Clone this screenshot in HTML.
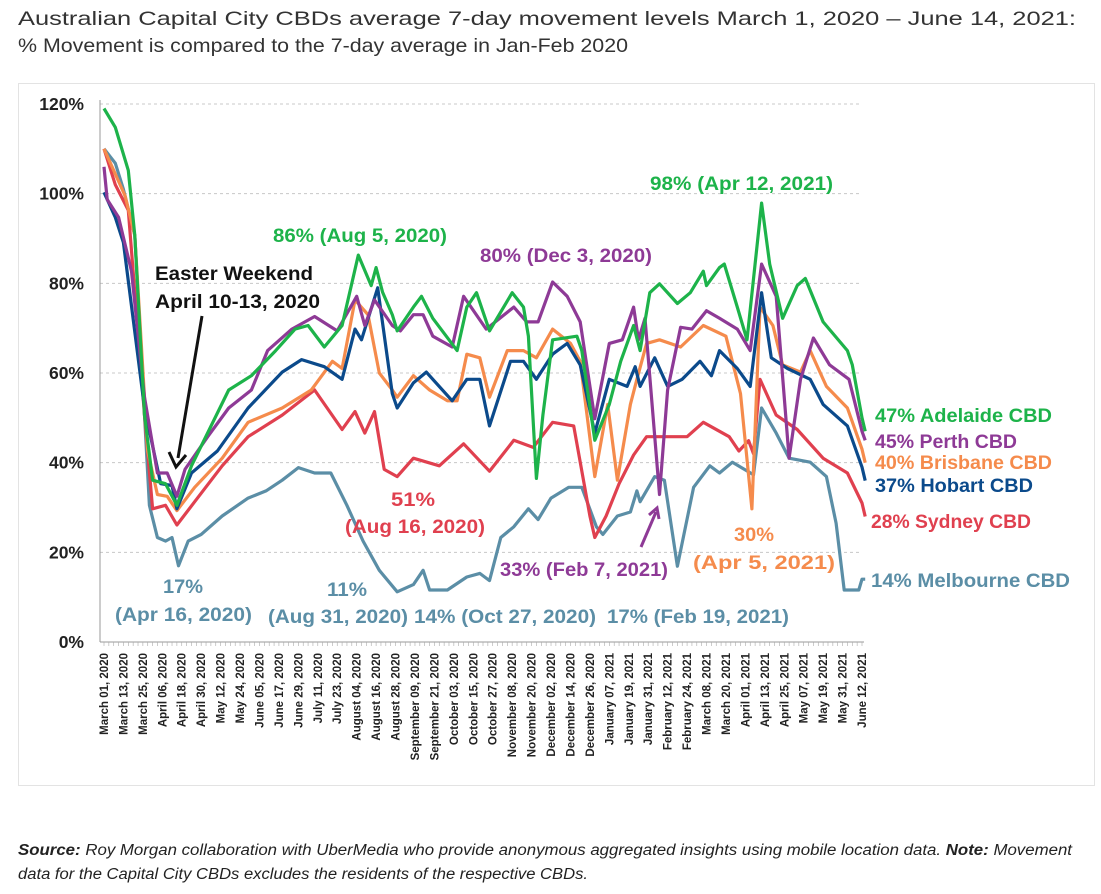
<!DOCTYPE html>
<html><head><meta charset="utf-8"><style>
body{margin:0;background:#fff;font-family:"Liberation Sans",sans-serif;}
svg text{font-family:"Liberation Sans",sans-serif;}
</style></head><body>
<svg id="c" width="1101" height="889" viewBox="0 0 1101 889">
<text x="18" y="25" font-size="19.5" fill="#333" textLength="1058" lengthAdjust="spacingAndGlyphs">Australian Capital City CBDs average 7-day movement levels March 1, 2020 – June 14, 2021:</text>
<text x="18" y="52" font-size="19.5" fill="#333" textLength="610" lengthAdjust="spacingAndGlyphs">% Movement is compared to the 7-day average in Jan-Feb 2020</text>
<rect x="18.5" y="83.5" width="1076" height="702" fill="none" stroke="#e3e3e3"/>
<g id="grid"></g><g id="lines"></g><g id="ann"></g>
<text x="18" y="855" font-size="15.5" font-style="italic" fill="#222" textLength="1054" lengthAdjust="spacingAndGlyphs"><tspan font-weight="bold">Source:</tspan> Roy Morgan collaboration with UberMedia who provide anonymous aggregated insights using mobile location data. <tspan font-weight="bold">Note:</tspan> Movement</text>
<text x="18" y="879" font-size="15.5" font-style="italic" fill="#222" textLength="570" lengthAdjust="spacingAndGlyphs">data for the Capital City CBDs excludes the residents of the respective CBDs.</text>
</svg>
<script>
const yTicks=[0,20,40,60,80,100,120];
const xTickLabels=["March 01, 2020","March 13, 2020","March 25, 2020","April 06, 2020","April 18, 2020","April 30, 2020","May 12, 2020","May 24, 2020","June 05, 2020","June 17, 2020","June 29, 2020","July 11, 2020","July 23, 2020","August 04, 2020","August 16, 2020","August 28, 2020","September 09, 2020","September 21, 2020","October 03, 2020","October 15, 2020","October 27, 2020","November 08, 2020","November 20, 2020","December 02, 2020","December 14, 2020","December 26, 2020","January 07, 2021","January 19, 2021","January 31, 2021","February 12, 2021","February 24, 2021","March 08, 2021","March 20, 2021","April 01, 2021","April 13, 2021","April 25, 2021","May 07, 2021","May 19, 2021","May 31, 2021","June 12, 2021"];
const adelaideDays=[0,7,15,19,25,30,38,45,54,77,91,106,118,126,136,147,157,165,168,172,178,181,191,196,203,218,224,230,238,252,259,262,267,271,277,292,295,303,312,319,327,331,337,343,354,362,370,372,380,383,391,397,406,411,419,428,433,444,459,462,468,470];
const adelaideVals=[119,114.8,105.2,90.7,50.6,36.1,35.3,30.5,39.3,56.2,59.4,65,69.8,70.6,65.8,70.6,86.3,79.5,83.5,78,73,69.4,74.7,77.1,72.2,65,74.7,77.9,69.4,77.9,74.7,68.2,36.5,50.6,67.4,68.2,65,45,53,62.6,70.6,65,77.9,79.9,75.5,77.9,82.7,79.5,83.5,84.3,74.7,67.4,97.9,84.3,72.2,79.5,81.1,71.4,65,61.8,50,47];
const perthDays=[0,2,9,17,25,33,39,45,50,64,77,91,101,116,130,144,156,161,167,178,183,191,197,203,215,222,236,253,261,268,277,286,294,303,312,320,327,330,334,343,348,356,363,372,380,391,399,406,415,423,430,438,448,460,468,470];
const perthVals=[106,98.7,94.7,82.7,54.6,37.7,37.7,32.5,38.5,45.8,52.2,56.2,65,69.8,72.6,69.4,77.1,70.6,76.3,70.6,69.4,73,73,68.2,65.8,77.1,69.8,74.7,71.4,71.4,80.3,77.1,71.4,49.8,66.6,67.4,74.7,67.4,72.2,32.9,56.2,70.2,69.8,73.9,72.2,69.8,65,84.3,77.1,41,58.6,67.8,61.8,58.6,47,45];
const brisbaneDays=[0,13,19,27,33,39,45,56,73,89,110,128,141,147,155,163,170,178,181,191,201,212,218,224,232,238,249,259,267,277,288,294,303,311,317,325,329,335,343,356,370,384,393,400,405,413,419,430,436,446,459,468,470];
const brisbaneVals=[110,99.5,90.7,42.6,32.9,32.5,29.3,34.5,41,49,52.2,56.2,62.6,61,76.3,73,60,56.2,54.6,59.4,56.2,53.8,53.8,64.2,63.4,54.6,65,65,63.4,69.8,66.6,62.6,36.9,53,36.1,53,58.6,66.6,67.4,65.8,70.6,68.2,55.4,29.7,74.7,70.6,61.8,60.2,65,57,52.2,43,40];
const hobartDays=[0,7,12,25,35,42,45,54,70,89,110,122,136,147,155,159,169,178,181,191,199,215,224,232,238,251,259,267,277,286,294,303,312,323,328,331,340,348,357,368,375,380,391,399,406,412,422,436,444,459,468,470];
const hobartVals=[100.3,94.7,89.1,52.2,35.3,34.9,29.7,37.7,42.6,52.2,60.2,63,61.4,58.6,69.8,67.4,79,55.4,52.2,57.8,60.2,53.8,58.6,58.6,48.2,62.6,62.6,58.6,64.2,66.6,61.8,46.6,58.6,57,61.4,57,63.4,57,58.6,62.6,59.4,65,61,57,77.9,63.4,61,58.6,53,48.2,39,36];
const sydneyDays=[0,7,15,25,30,38,45,56,73,89,110,130,147,155,161,167,173,181,191,207,222,238,253,265,277,290,300,303,310,318,327,335,343,360,370,386,392,398,401,405,415,428,444,459,468,470];
const sydneyVals=[110,102,96.3,50.6,29.7,30.5,26.1,31.3,39.3,45.8,50.6,56.2,47.4,51.4,46.6,51.4,38.5,36.9,41,39.3,44.2,38.1,45,43.4,49,48.2,28.1,23.3,28.1,35.3,41.7,45.8,45.8,45.8,49,45.8,42.6,44.9,42,58.6,50.6,47.4,41,37.7,31,28];
const melbourneDays=[0,7,12,19,25,28,33,38,42,46,52,60,73,89,100,110,120,130,140,150,160,170,181,191,197,201,212,224,232,238,245,253,262,268,276,287,295,304,308,317,325,329,331,340,346,354,364,374,380,388,401,406,415,423,436,446,452,457,466,468,470];
const melbourneVals=[110,106.8,101,90.7,50.6,30.5,23.3,22.5,23.3,17,22.5,24,28.1,32.1,33.7,36.1,38.9,37.7,37.7,30.5,22.5,16,11.2,12.8,16,11.6,11.6,14.5,15.3,13.7,23.3,25.7,29.7,27.3,32.1,34.5,34.5,25.7,24,28.1,29,33.7,31.3,36.9,36.1,16.9,34.5,39.3,37.7,40.1,37.3,52.2,46.6,41,40.1,36.9,26.5,11.6,11.6,14,14];
const NS='http://www.w3.org/2000/svg';
const X0=104,X1=862,Y0=642,Y120=104;
function xs(d){return X0+(X1-X0)*d/468;}
function ys(v){return Y0-(Y0-Y120)*v/120;}
function mk(t,a,p){const e=document.createElementNS(NS,t);for(const k in a)e.setAttribute(k,a[k]);p.appendChild(e);return e;}
const grid=document.getElementById('grid');
yTicks.forEach(v=>{
  if(v>0){const l=mk('line',{x1:100,x2:862,y1:ys(v),y2:ys(v),stroke:'#c8c8c8','stroke-dasharray':'3,3'},grid);
  
  }
  const t=mk('text',{x:84,y:ys(v)+6,'text-anchor':'end','font-size':17.5,'font-weight':'bold',fill:'#222'},grid);
  t.textContent=v+'%';
  
  
});
const ax=mk('line',{x1:100,x2:100,y1:100,y2:642,stroke:'#999'},grid);


const xa=mk('line',{x1:100,x2:864,y1:642,y2:642,stroke:'#999'},grid);


for(let d=0;d<=470;d+=3){const tk=mk('line',{x1:xs(d),x2:xs(d),y1:642,y2:646,stroke:'#aaa','stroke-width':0.6},grid);

}
xTickLabels.forEach((s,i)=>{
  const x=xs(i*12)+4;
  const t=mk('text',{x:0,y:0,transform:`translate(${x},653) rotate(-90)`,'text-anchor':'end','font-size':11.5,'font-weight':'bold',fill:'#222'},grid);
  t.textContent=s;
  
  
});
const series=[
 ['melbourne',melbourneDays,melbourneVals,'#5b8ea6'],
 ['sydney',sydneyDays,sydneyVals,'#e0404f'],
 ['brisbane',brisbaneDays,brisbaneVals,'#f58b4c'],
 ['hobart',hobartDays,hobartVals,'#0b4a8b'],
 ['perth',perthDays,perthVals,'#8e3a96'],
 ['adelaide',adelaideDays,adelaideVals,'#1db34a']];
const lines=document.getElementById('lines');
series.forEach(s=>{
  const pts=s[1].map((d,i)=>xs(d).toFixed(1)+','+ys(s[2][i]).toFixed(1)).join(' ');
  const p=mk('polyline',{points:pts,fill:'none',stroke:s[3],'stroke-width':3.2,'stroke-linejoin':'round'},lines);
  
  
});
const ann=document.getElementById('ann');
const labels=[
 [273,242,174,'#1db34a','86% (Aug 5, 2020)','label-adelaide-peak-2020'],
 [155,280,158,'#111','Easter Weekend','label-easter-1'],
 [155,308,165,'#111','April 10-13, 2020','label-easter-2'],
 [480,262,172,'#8e3a96','80% (Dec 3, 2020)','label-perth-peak'],
 [650,190,183,'#1db34a','98% (Apr 12, 2021)','label-adelaide-peak-2021'],
 [391,506,44,'#e0404f','51%','label-sydney-51'],
 [345,533,140,'#e0404f','(Aug 16, 2020)','label-sydney-date'],
 [163,593,40,'#5b8ea6','17%','label-melb-17'],
 [115,621,137,'#5b8ea6','(Apr 16, 2020)','label-melb-17-date'],
 [327,596,40,'#5b8ea6','11%','label-melb-11'],
 [268,623,140,'#5b8ea6','(Aug 31, 2020)','label-melb-11-date'],
 [414,623,182,'#5b8ea6','14% (Oct 27, 2020)','label-melb-14'],
 [607,623,182,'#5b8ea6','17% (Feb 19, 2021)','label-melb-17b'],
 [500,576,168,'#8e3a96','33% (Feb 7, 2021)','label-perth-33'],
 [734,541,40,'#f58b4c','30%','label-bris-30'],
 [693,569,142,'#f58b4c','(Apr 5, 2021)','label-bris-30-date'],
 [875,422,177,'#1db34a','47% Adelaide CBD','legend-adelaide'],
 [875,448,142,'#8e3a96','45% Perth CBD','legend-perth'],
 [875,469,177,'#f58b4c','40% Brisbane CBD','legend-brisbane'],
 [875,492,158,'#0b4a8b','37% Hobart CBD','legend-hobart'],
 [871,528,160,'#e0404f','28% Sydney CBD','legend-sydney'],
 [871,587,199,'#5b8ea6','14% Melbourne CBD','legend-melbourne']];
labels.forEach(l=>{
  const t=mk('text',{x:l[0],y:l[1],textLength:l[2],lengthAdjust:'spacingAndGlyphs',fill:l[3],'font-size':19,'font-weight':'bold'},ann);
  t.textContent=l[4];
  
  
});
const a1=mk('line',{x1:202,y1:316,x2:178,y2:458,stroke:'#111','stroke-width':3},ann);


const h1=mk('polyline',{points:'169,452 176,467 186,455',fill:'none',stroke:'#111','stroke-width':3},ann);


const a2=mk('line',{x1:641,y1:547,x2:656,y2:512,stroke:'#8e3a96','stroke-width':3},ann);


const h2=mk('polyline',{points:'649,515 657,508 659,519',fill:'none',stroke:'#8e3a96','stroke-width':3},ann);


</script>
</body></html>
